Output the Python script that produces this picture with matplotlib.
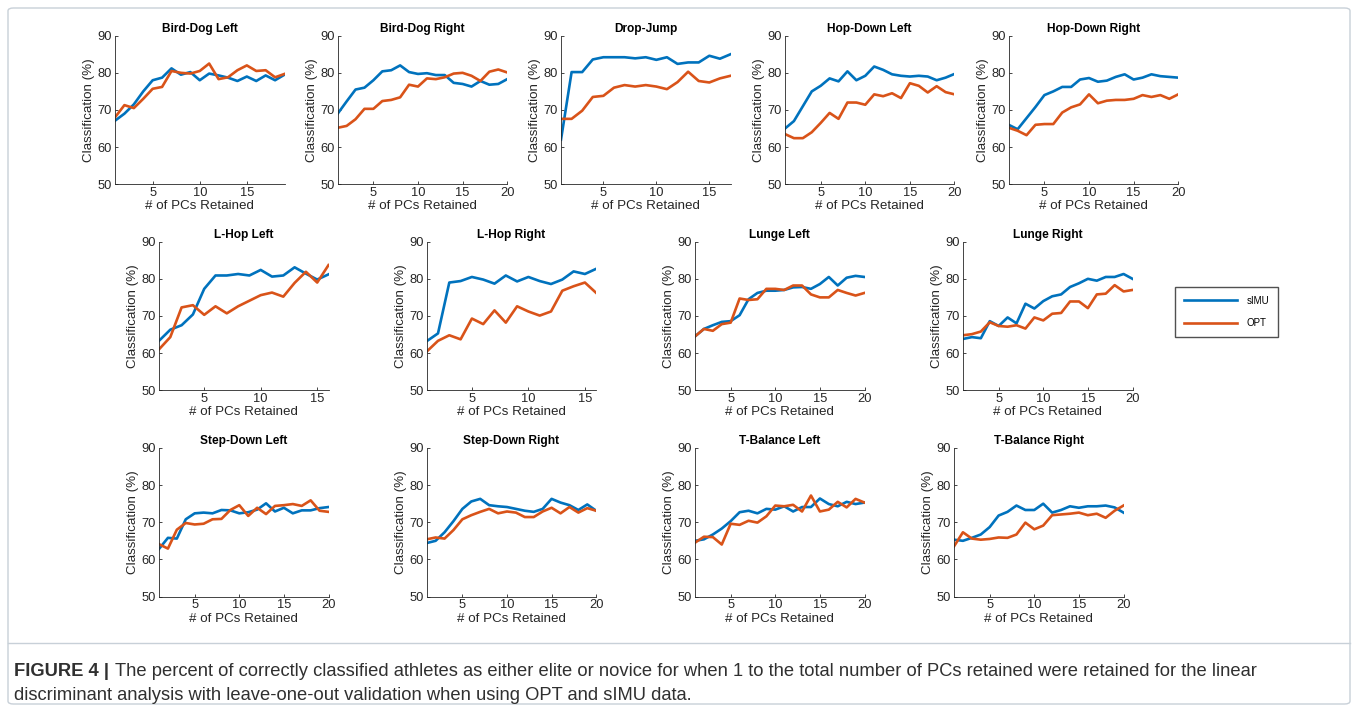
import matplotlib.pyplot as plt
from matplotlib.patches import FancyBboxPatch

plt.rcParams['font.family'] = ['Liberation Sans', 'DejaVu Sans']

BLUE = '#0072BD'
ORANGE = '#D95319'

titles = ['Bird-Dog Left', 'Bird-Dog Right', 'Drop-Jump', 'Hop-Down Left', 'Hop-Down Right',
          'L-Hop Left', 'L-Hop Right', 'Lunge Left', 'Lunge Right',
          'Step-Down Left', 'Step-Down Right', 'T-Balance Left', 'T-Balance Right']

bird_dog_left_simu = [67.1, 69.0, 71.5, 75.0, 78.0, 78.7, 81.2, 79.5, 80.2, 78.0, 79.8, 79.3, 78.7, 77.8, 79.0, 77.8, 79.3, 78.0, 79.5]
bird_dog_left_opt = [68.0, 71.3, 70.5, 73.0, 75.7, 76.2, 80.5, 80.0, 79.8, 80.5, 82.5, 78.3, 78.8, 80.7, 82.0, 80.5, 80.7, 78.8, 79.7]

bird_dog_right_simu = [69.0, 72.3, 75.5, 76.0, 78.0, 80.4, 80.7, 82.0, 80.2, 79.7, 79.9, 79.4, 79.4, 77.3, 77.0, 76.3, 77.8, 76.8, 77.0, 78.3]
bird_dog_right_opt = [65.2, 65.7, 67.5, 70.3, 70.3, 72.4, 72.7, 73.4, 76.8, 76.3, 78.5, 78.3, 78.8, 79.8, 80.0, 79.2, 77.8, 80.3, 80.9, 80.1]

drop_jump_simu = [62.0, 80.2, 80.2, 83.6, 84.2, 84.2, 84.2, 83.9, 84.2, 83.5, 84.2, 82.4, 82.8, 82.8, 84.6, 83.8, 85.0]
drop_jump_opt = [67.6, 67.6, 69.8, 73.5, 73.8, 76.0, 76.7, 76.3, 76.7, 76.3, 75.6, 77.5, 80.3, 77.8, 77.4, 78.5, 79.2]

hop_down_left_simu = [65.0, 67.0, 71.0, 75.0, 76.5, 78.5, 77.7, 80.4, 78.0, 79.2, 81.7, 80.8, 79.6, 79.2, 79.0, 79.2, 79.0, 78.0, 78.7, 79.7]
hop_down_left_opt = [63.5, 62.4, 62.4, 64.0, 66.5, 69.2, 67.6, 72.0, 72.0, 71.4, 74.2, 73.7, 74.5, 73.2, 77.2, 76.5, 74.7, 76.4, 74.8, 74.2]

hop_down_right_simu = [66.0, 64.8, 67.8, 70.8, 74.0, 75.0, 76.2, 76.2, 78.2, 78.6, 77.6, 77.9, 78.9, 79.6, 78.2, 78.7, 79.6, 79.1, 78.9, 78.7]
hop_down_right_opt = [65.2, 64.4, 63.2, 66.0, 66.2, 66.2, 69.3, 70.7, 71.5, 74.2, 71.8, 72.5, 72.7, 72.7, 73.0, 74.0, 73.5, 74.0, 73.0, 74.2]

l_hop_left_simu = [63.3, 66.3, 67.5, 70.4, 77.3, 80.9, 80.9, 81.3, 80.9, 82.4, 80.6, 80.9, 83.1, 81.4, 79.8, 81.2]
l_hop_left_opt = [61.0, 64.3, 72.3, 72.9, 70.3, 72.6, 70.7, 72.6, 74.1, 75.6, 76.3, 75.2, 78.9, 81.9, 79.0, 83.7]

l_hop_right_simu = [63.2, 65.3, 79.0, 79.4, 80.5, 79.8, 78.7, 80.9, 79.3, 80.5, 79.4, 78.6, 79.8, 82.0, 81.3, 82.7]
l_hop_right_opt = [60.4, 63.3, 64.8, 63.7, 69.3, 67.8, 71.5, 68.2, 72.6, 71.2, 70.1, 71.2, 76.8, 78.0, 79.0, 76.2]

lunge_left_simu = [64.5, 66.5, 67.5, 68.4, 68.6, 70.2, 74.5, 76.2, 76.8, 76.8, 77.0, 77.7, 77.8, 77.3, 78.6, 80.5, 78.2, 80.3, 80.8, 80.5]
lunge_left_opt = [64.5, 66.5, 66.0, 67.8, 68.2, 74.7, 74.3, 74.5, 77.3, 77.3, 77.0, 78.2, 78.2, 75.8, 75.0, 75.0, 77.0, 76.2, 75.5, 76.2]

lunge_right_simu = [63.8, 64.3, 64.0, 68.6, 67.3, 69.6, 68.0, 73.3, 72.0, 74.0, 75.3, 75.8, 77.8, 78.8, 80.0, 79.5, 80.5, 80.5, 81.3, 80.0]
lunge_right_opt = [64.8, 65.1, 65.8, 68.3, 67.3, 67.1, 67.5, 66.6, 69.6, 68.8, 70.6, 70.8, 73.9, 73.9, 72.1, 75.8, 76.0, 78.3, 76.6, 77.0]

step_down_left_simu = [62.8, 65.8, 65.6, 70.8, 72.4, 72.6, 72.4, 73.3, 73.2, 72.4, 72.7, 73.4, 75.1, 72.9, 73.9, 72.4, 73.2, 73.2, 73.8, 74.1]
step_down_left_opt = [64.1, 62.9, 68.0, 69.8, 69.4, 69.6, 70.8, 70.9, 73.3, 74.6, 71.7, 73.9, 72.2, 74.4, 74.6, 74.9, 74.4, 75.9, 73.1, 72.8]

step_down_right_simu = [64.4, 65.0, 67.3, 70.3, 73.6, 75.6, 76.3, 74.6, 74.3, 74.1, 73.6, 73.1, 72.8, 73.6, 76.3, 75.3, 74.6, 73.3, 74.8, 73.1]
step_down_right_opt = [65.4, 65.9, 65.6, 67.9, 70.8, 71.9, 72.8, 73.6, 72.4, 72.9, 72.6, 71.4, 71.4, 72.9, 73.9, 72.4, 74.1, 72.6, 73.8, 73.1]

t_balance_left_simu = [65.0, 65.4, 66.7, 68.3, 70.3, 72.7, 73.1, 72.4, 73.6, 73.4, 74.3, 72.9, 74.1, 74.1, 76.4, 74.9, 74.3, 75.5, 74.9, 75.3]
t_balance_left_opt = [64.5, 66.1, 66.0, 64.0, 69.6, 69.3, 70.4, 69.9, 71.6, 74.5, 74.3, 74.7, 72.9, 77.2, 72.9, 73.4, 75.5, 74.0, 76.3, 75.3]

t_balance_right_simu = [65.3, 65.0, 65.8, 66.7, 68.7, 71.8, 72.8, 74.5, 73.3, 73.3, 75.0, 72.6, 73.3, 74.3, 73.9, 74.3, 74.3, 74.5, 74.0, 72.6]
t_balance_right_opt = [63.5, 67.3, 65.6, 65.3, 65.5, 65.9, 65.8, 66.7, 69.9, 68.1, 69.1, 71.9, 72.1, 72.3, 72.6, 71.9, 72.3, 71.2, 73.1, 74.5]

simu_series = [bird_dog_left_simu, bird_dog_right_simu, drop_jump_simu, hop_down_left_simu, hop_down_right_simu,
               l_hop_left_simu, l_hop_right_simu, lunge_left_simu, lunge_right_simu,
               step_down_left_simu, step_down_right_simu, t_balance_left_simu, t_balance_right_simu]
opt_series = [bird_dog_left_opt, bird_dog_right_opt, drop_jump_opt, hop_down_left_opt, hop_down_right_opt,
              l_hop_left_opt, l_hop_right_opt, lunge_left_opt, lunge_right_opt,
              step_down_left_opt, step_down_right_opt, t_balance_left_opt, t_balance_right_opt]

W, H = 1358, 712
fig = plt.figure(figsize=(W / 100, H / 100), dpi=100)

# axes boxes in pixels: left, top
ax_w, ax_h = 169.5, 148.5
boxes = [(115, 35.7), (337.7, 35.7), (561, 35.7), (785, 35.7), (1008.7, 35.7),
         (159, 241.7), (426.7, 241.7), (695, 241.7), (963, 241.7),
         (159, 448), (426.7, 448), (695, 448), (954, 448)]

for title, simu, opt, (lx, ty) in zip(titles, simu_series, opt_series, boxes):
    ax = fig.add_axes([lx / W, 1 - (ty + ax_h) / H, ax_w / W, ax_h / H])
    x = list(range(1, len(simu) + 1))
    l1, = ax.plot(x, simu, color=BLUE, lw=1.9)
    l2, = ax.plot(x, opt, color=ORANGE, lw=1.9)
    ax.set_xlim(1, len(simu))
    ax.set_ylim(50, 90)
    ax.set_yticks([50, 60, 70, 80, 90])
    ax.set_xticks([t for t in [5, 10, 15, 20] if t <= len(simu)])
    ax.spines['top'].set_visible(False)
    ax.spines['right'].set_visible(False)
    for s in ['left', 'bottom']:
        ax.spines[s].set_color('#262626')
        ax.spines[s].set_linewidth(0.6)
    ax.tick_params(direction='in', length=2.5, width=0.6, labelsize=9.3,
                   colors='#262626', pad=2)
    ax.set_title(title, fontsize=8.6, fontweight='bold', pad=3, color='black')
    ax.set_xlabel('# of PCs Retained', fontsize=9.6, color='#262626', labelpad=1)
    ax.set_ylabel('Classification (%)', fontsize=9.6, color='#262626', labelpad=2)

fig.legend([l1, l2], ['sIMU', 'OPT'], loc='upper left',
           bbox_to_anchor=(1175 / W, 1 - 287 / H), fontsize=7, frameon=True,
           fancybox=False, edgecolor='#262626', handlelength=5.5,
           borderpad=0.9, labelspacing=1.3, handletextpad=1.0, borderaxespad=0)

# outer frame and caption separator
fig.patches.append(FancyBboxPatch((8 / W, 8 / H), 1 - 16 / W, 1 - 16 / H,
                                  boxstyle='round,pad=0,rounding_size=0.004',
                                  transform=fig.transFigure, fill=False,
                                  edgecolor='#c8d0d8', lw=1.0))
fig.add_artist(plt.Line2D([8 / W, 1 - 8 / W], [1 - 643 / H, 1 - 643 / H],
                          color='#c8d0d8', lw=1.0))

cap_size = 13.2
lbl = fig.text(14 / W, 1 - 672 / H, 'FIGURE 4 |', fontsize=cap_size, fontweight='bold',
               color='#303030', va='center')
fig.canvas.draw()
bb = lbl.get_window_extent()
fig.text((bb.x1 + 6) / W, 1 - 672 / H,
         'The percent of correctly classified athletes as either elite or novice for when 1 to the total number of PCs retained were retained for the linear',
         fontsize=cap_size, color='#303030', va='center')
fig.text(14 / W, 1 - 695 / H,
         'discriminant analysis with leave-one-out validation when using OPT and sIMU data.',
         fontsize=cap_size, color='#303030', va='center')

fig.savefig('out.png', dpi=100)
